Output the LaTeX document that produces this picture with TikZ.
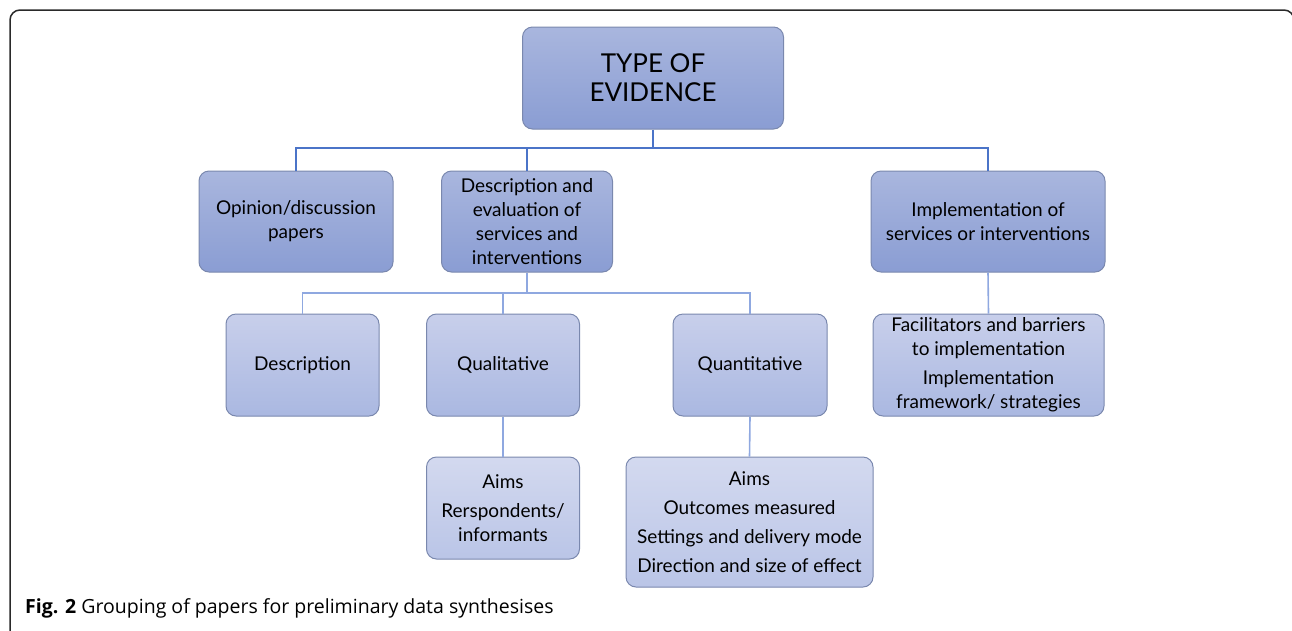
\documentclass[tikz,border=0pt]{standalone}
\usepackage{fontspec}
\setmainfont{Lato}
\newfontfamily\capfont{Open Sans}
\definecolor{bdr}{HTML}{7A88AE}
\definecolor{lvAtop}{HTML}{A9B6DE}
\definecolor{lvAbot}{HTML}{8A9DD3}
\definecolor{lvBtop}{HTML}{C8CFEB}
\definecolor{lvBbot}{HTML}{AAB8E1}
\definecolor{lvCtop}{HTML}{D3D9EF}
\definecolor{lvCbot}{HTML}{BAC5E7}
\definecolor{conA}{HTML}{4B74C8}
\definecolor{conB}{HTML}{8FA8E0}
\definecolor{frm}{HTML}{2A2A2A}
\tikzset{
  boxbase/.style={draw=bdr, line width=1pt, rounded corners=10pt, align=center, inner sep=0pt, text=black},
  boxA/.style={boxbase, top color=lvAtop, bottom color=lvAbot, font=\fontsize{19}{24}\selectfont},
  boxB/.style={boxbase, top color=lvBtop, bottom color=lvBbot, font=\fontsize{19}{24}\selectfont},
  boxC/.style={boxbase, top color=lvCtop, bottom color=lvCbot, font=\fontsize{19}{24}\selectfont},
  conlineA/.style={draw=conA, line width=1.6pt},
  conlineB/.style={draw=conB, line width=1.6pt},
}
\begin{document}
\begin{tikzpicture}[x=1pt,y=-1pt]
\useasboundingbox (0,0) rectangle (1292,630);
% frame
\draw[frm, line width=1.5pt, rounded corners=10pt] (10,660) -- (10,10) -- (1294,10) -- (1294,660);
% nodes
\node[boxA, minimum width=261pt, minimum height=102pt, font=\fontsize{26}{29}\selectfont] (top) at (653,78) {TYPE OF\\EVIDENCE};
\node[boxA, minimum width=194pt, minimum height=101pt] (op) at (296,221.5) {Opinion/discussion\\papers};
\node[boxA, minimum width=171pt, minimum height=101pt] (de) at (527,221.5) {Description and\\evaluation of\\services and\\interventions};
\node[boxA, minimum width=234pt, minimum height=101pt] (im) at (988,221.5) {Implementation of\\services or interventions};
\node[boxB, minimum width=153pt, minimum height=102pt] (ds) at (302.5,365) {Description};
\node[boxB, minimum width=153pt, minimum height=102pt] (ql) at (503,365) {Qualitative};
\node[boxB, minimum width=154pt, minimum height=102pt] (qn) at (750,365) {Quantitative};
\node[boxB, minimum width=231pt, minimum height=102pt] (fc) at (988.5,365) {Facilitators and barriers\\to implementation\\[5pt]Implementation\\framework/ strategies};
\node[boxC, minimum width=153pt, minimum height=102pt] (qla) at (503,508) {Aims\\[5pt]Rerspondents/\\informants};
\node[boxC, minimum width=247pt, minimum height=130pt] (qna) at (749.5,522) {Aims\\[5pt]Outcomes measured\\[5pt]Settings and delivery mode\\[5pt]Direction and size of effect};
% connectors
\coordinate (barA) at (653,148);
\draw[conlineA] (top.south) -- (barA);
\draw[conlineA] (barA) -| (op.north);
\draw[conlineA] (barA) -| (de.north);
\draw[conlineA] (barA) -| (im.north);
\coordinate (barB) at (527,293);
\draw[conlineB] (de.south) -- (barB);
\draw[conlineB] (barB) -| (ds.north);
\draw[conlineB] (barB) -| (ql.north);
\draw[conlineB] (barB) -| (qn.north);
\draw[conlineB] (im.south) -- (fc.north);
\draw[conlineB] (ql.south) -- (qla.north);
\draw[conlineB] (qn.south) -- (qna.north);
% caption
\node[anchor=base west, inner sep=0pt, font=\capfont\fontsize{19.5}{22}\selectfont] (cap) at (25,613) {\textbf{Fig. 2} Grouping of papers for preliminary data synthesises};
\end{tikzpicture}
\end{document}
